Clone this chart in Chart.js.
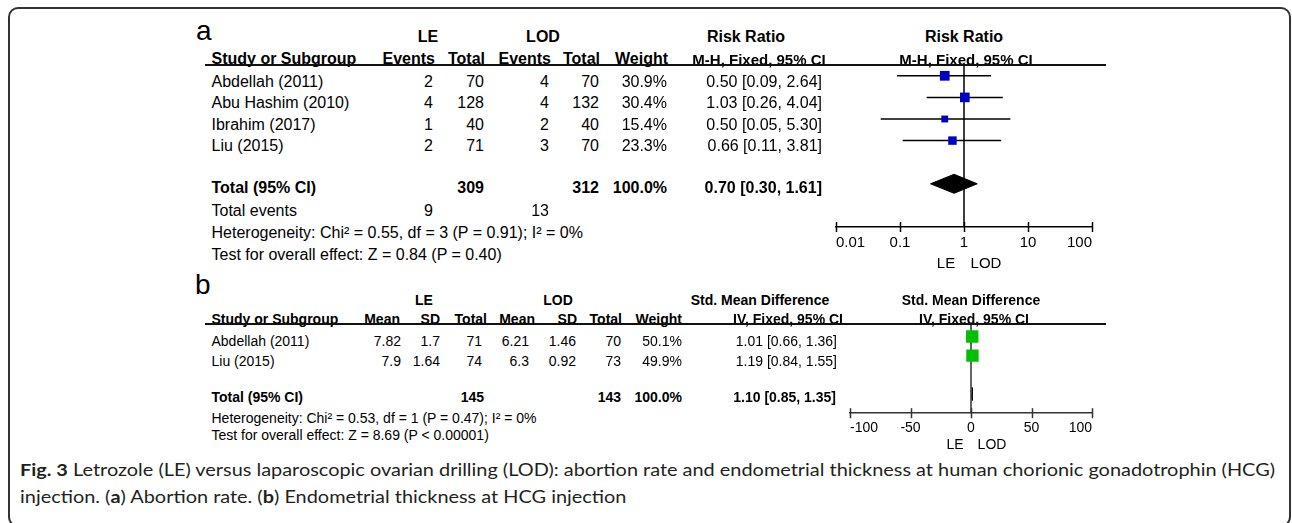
<!DOCTYPE html>
<html>
<head>
<meta charset="utf-8">
<script src="https://cdn.jsdelivr.net/npm/chart.js"></script>
<style>
html, body { margin: 0; padding: 0; background: #fff; }
body { width: 1292px; height: 523px; position: relative; overflow: hidden; font-family: "Liberation Sans", Arial, sans-serif; color: #000; }
#frame { position: absolute; left: 8px; top: 7px; width: 1283px; height: 520px; border: 2px solid #333; border-radius: 10px; box-sizing: border-box; }
.t { position: absolute; white-space: nowrap; line-height: 1.15; }
.b { font-weight: bold; }
.hline { position: absolute; height: 2px; background: #111; }
canvas { position: absolute; }
.cap { position: absolute; left: 20px; font-family: Lato, "Open Sans", sans-serif; font-size: 17px; color: #231f20; white-space: nowrap; transform-origin: 0 0; line-height: 20px; }
</style>
</head>
<body>
<div id="frame"></div>
<canvas id="chartA" width="316" height="204" style="left:806px; top:55px;"></canvas>
<canvas id="chartB" width="302" height="130" style="left:820px; top:314px;"></canvas>
<div class="cap" id="cap1" style="top:460px;"><b>Fig. 3</b> Letrozole (LE) versus laparoscopic ovarian drilling (LOD): abortion rate and endometrial thickness at human chorionic gonadotrophin (HCG)</div>
<div class="cap" id="cap2" style="top:487px;">injection. (<b>a</b>) Abortion rate. (<b>b</b>) Endometrial thickness at HCG injection</div>
<script>
// panel a: abortion rate
const studiesA = ['Abdellah (2011)', 'Abu Hashim (2010)', 'Ibrahim (2017)', 'Liu (2015)'];
const leEventsA = [2, 4, 1, 2];
const leTotalA = [70, 128, 40, 71];
const lodEventsA = [4, 4, 2, 3];
const lodTotalA = [70, 132, 40, 70];
const weightA = [30.9, 30.4, 15.4, 23.3];
const rrA = [0.50, 1.03, 0.50, 0.66];
const rrLoA = [0.09, 0.26, 0.05, 0.11];
const rrHiA = [2.64, 4.04, 5.30, 3.81];
const totalA = { le: 309, lod: 312, leEvents: 9, lodEvents: 13, weight: 100.0, est: 0.70, lo: 0.30, hi: 1.61 };
const hetA = 'Heterogeneity: Chi² = 0.55, df = 3 (P = 0.91); I² = 0%';
const testA = 'Test for overall effect: Z = 0.84 (P = 0.40)';
const xTicksA = [0.01, 0.1, 1, 10, 100];
const xTickLabelsA = ['0.01', '0.1', '1', '10', '100'];

// panel b: endometrial thickness
const studiesB = ['Abdellah (2011)', 'Liu (2015)'];
const leMeanB = [7.82, 7.9];
const leSdB = [1.7, 1.64];
const leTotalB = [71, 74];
const lodMeanB = [6.21, 6.3];
const lodSdB = [1.46, 0.92];
const lodTotalB = [70, 73];
const weightB = [50.1, 49.9];
const smdB = [1.01, 1.19];
const smdLoB = [0.66, 0.84];
const smdHiB = [1.36, 1.55];
const totalB = { le: 145, lod: 143, weight: 100.0, est: 1.10, lo: 0.85, hi: 1.35 };
const hetB = 'Heterogeneity: Chi² = 0.53, df = 1 (P = 0.47); I² = 0%';
const testB = 'Test for overall effect: Z = 8.69 (P < 0.00001)';
const xTicksB = [-100, -50, 0, 50, 100];
const xTickLabelsB = ['-100', '-50', '0', '50', '100'];

function txt(x, y, s, size, align, bold) {
  const d = document.createElement('div');
  d.className = 't' + (bold ? ' b' : '');
  d.textContent = s;
  d.style.fontSize = size + 'px';
  d.style.left = x + 'px';
  d.style.top = (y - size * 0.575) + 'px';
  if (align === 'right') d.style.transform = 'translateX(-100%)';
  else if (align === 'center') d.style.transform = 'translateX(-50%)';
  document.body.appendChild(d);
}
function hline(x1, x2, y) {
  const d = document.createElement('div');
  d.className = 'hline';
  d.style.left = x1 + 'px';
  d.style.width = (x2 - x1) + 'px';
  d.style.top = (y - 1) + 'px';
  document.body.appendChild(d);
}
const ci = (e, l, h) => e.toFixed(2) + ' [' + l.toFixed(2) + ', ' + h.toFixed(2) + ']';

// ---- table a
txt(196, 31, 'a', 28);
txt(428, 37.5, 'LE', 16, 'center', true);
txt(543, 37.5, 'LOD', 16, 'center', true);
txt(746, 37.5, 'Risk Ratio', 16, 'center', true);
txt(964, 37.5, 'Risk Ratio', 16, 'center', true);
txt(211.5, 59.3, 'Study or Subgroup', 16, 'left', true);
txt(435, 59.3, 'Events', 16, 'right', true);
txt(485, 59.3, 'Total', 16, 'right', true);
txt(551, 59.3, 'Events', 16, 'right', true);
txt(600, 59.3, 'Total', 16, 'right', true);
txt(668, 59.3, 'Weight', 16, 'right', true);
txt(759, 59.3, 'M-H, Fixed, 95% CI', 15, 'center', true);
txt(966, 59.3, 'M-H, Fixed, 95% CI', 15, 'center', true);
studiesA.forEach((s, i) => {
  const y = 81.7 + 21.6 * i;
  txt(211.5, y, s, 16);
  txt(433, y, String(leEventsA[i]), 16, 'right');
  txt(484, y, String(leTotalA[i]), 16, 'right');
  txt(549, y, String(lodEventsA[i]), 16, 'right');
  txt(599, y, String(lodTotalA[i]), 16, 'right');
  txt(667, y, weightA[i].toFixed(1) + '%', 16, 'right');
  txt(822, y, ci(rrA[i], rrLoA[i], rrHiA[i]), 16, 'right');
});
txt(211.5, 188.5, 'Total (95% CI)', 16, 'left', true);
txt(484, 188.5, String(totalA.le), 16, 'right', true);
txt(599, 188.5, String(totalA.lod), 16, 'right', true);
txt(667, 188.5, totalA.weight.toFixed(1) + '%', 16, 'right', true);
txt(822, 188.5, ci(totalA.est, totalA.lo, totalA.hi), 16, 'right', true);
txt(211.5, 211.5, 'Total events', 16);
txt(433, 211.5, String(totalA.leEvents), 16, 'right');
txt(549, 211.5, String(totalA.lodEvents), 16, 'right');
txt(211.5, 233.2, hetA, 16);
txt(211.5, 254.8, testA, 16);
txt(946, 263, 'LE', 15, 'center');
txt(986, 263, 'LOD', 15, 'center');
hline(205, 1106, 65);

// ---- table b
txt(195, 285, 'b', 28);
txt(424, 300, 'LE', 14, 'center', true);
txt(558, 300, 'LOD', 14, 'center', true);
txt(760, 300, 'Std. Mean Difference', 14, 'center', true);
txt(971, 300, 'Std. Mean Difference', 14, 'center', true);
txt(211.5, 319.5, 'Study or Subgroup', 14, 'left', true);
txt(400, 319.5, 'Mean', 14, 'right', true);
txt(440, 319.5, 'SD', 14, 'right', true);
txt(487, 319.5, 'Total', 14, 'right', true);
txt(535, 319.5, 'Mean', 14, 'right', true);
txt(577, 319.5, 'SD', 14, 'right', true);
txt(622, 319.5, 'Total', 14, 'right', true);
txt(682, 319.5, 'Weight', 14, 'right', true);
txt(843, 319.5, 'IV, Fixed, 95% CI', 14, 'right', true);
txt(974, 319.5, 'IV, Fixed, 95% CI', 14, 'center', true);
studiesB.forEach((s, i) => {
  const y = 341 + 20 * i;
  txt(211.5, y, s, 14);
  txt(401, y, String(leMeanB[i]), 14, 'right');
  txt(440, y, String(leSdB[i]), 14, 'right');
  txt(482, y, String(leTotalB[i]), 14, 'right');
  txt(529, y, String(lodMeanB[i]), 14, 'right');
  txt(576, y, String(lodSdB[i]), 14, 'right');
  txt(621, y, String(lodTotalB[i]), 14, 'right');
  txt(682, y, weightB[i].toFixed(1) + '%', 14, 'right');
  txt(837, y, ci(smdB[i], smdLoB[i], smdHiB[i]), 14, 'right');
});
txt(211.5, 397.3, 'Total (95% CI)', 14, 'left', true);
txt(484, 397.3, String(totalB.le), 14, 'right', true);
txt(621, 397.3, String(totalB.lod), 14, 'right', true);
txt(682, 397.3, totalB.weight.toFixed(1) + '%', 14, 'right', true);
txt(836, 397.3, ci(totalB.est, totalB.lo, totalB.hi), 14, 'right', true);
txt(211.5, 418.3, hetB, 14);
txt(211.5, 435, testB, 14);
txt(955, 444, 'LE', 14, 'center');
txt(992, 444, 'LOD', 14, 'center');
hline(205, 1106, 324.3);

// caption fit to the justified first line
const cap1 = document.getElementById('cap1'), cap2 = document.getElementById('cap2');
const sc = 1255 / cap1.getBoundingClientRect().width;
[cap1, cap2].forEach(el => el.style.transform = 'scaleX(' + sc + ')');

// ---- forest plots
const tickMarks = {
  id: 'tickMarks',
  afterDraw(chart) {
    const s = chart.scales.x, ctx = chart.ctx, yAx = chart.chartArea.bottom;
    ctx.save();
    ctx.strokeStyle = chart.options.plugins.tickMarks.color;
    ctx.lineWidth = 1.5;
    s.ticks.forEach(t => {
      const px = Math.round(s.getPixelForValue(t.value)) + 0.5;
      ctx.beginPath();
      ctx.moveTo(px, yAx - 5);
      ctx.lineTo(px, yAx + 5);
      ctx.stroke();
    });
    ctx.restore();
  }
};

function forest(id, o) {
  const n = o.est.length, r = n + 1;
  const datasets = [
    { type: 'scatter', order: 0, data: o.est.map((v, i) => ({ x: v, y: i })), pointStyle: 'rect',
      pointRadius: o.weight.map(w => Math.sqrt(w) * o.boxScale / Math.SQRT2),
      backgroundColor: o.boxColor, borderColor: o.boxColor, borderWidth: 0 },
    { type: 'line', order: 1,
      data: [{ x: o.tLo, y: r }, { x: o.tEst, y: r - o.dh }, { x: o.tHi, y: r }, { x: o.tEst, y: r + o.dh }, { x: o.tLo, y: r }],
      fill: 'shape', backgroundColor: '#000', borderColor: '#000', borderWidth: 1, pointRadius: 0 },
    ...o.est.map((v, i) => ({ type: 'line', order: 2, data: [{ x: o.lo[i], y: i }, { x: o.hi[i], y: i }],
      borderColor: '#000', borderWidth: 1.5, pointRadius: 0 })),
    { type: 'line', order: 3, data: [{ x: o.nullX, y: o.yMin }, { x: o.nullX, y: o.yMax }],
      borderColor: o.lineColor, borderWidth: 1.5, pointRadius: 0 }
  ];
  new Chart(document.getElementById(id), {
    type: 'scatter',
    data: { datasets },
    options: {
      responsive: false, animation: false, devicePixelRatio: 1, events: [],
      layout: { padding: { left: 30, right: 30, top: 10, bottom: 0 } },
      plugins: { legend: { display: false }, tooltip: { enabled: false }, tickMarks: { color: o.lineColor } },
      scales: {
        x: {
          type: o.xType, min: o.xTicks[0], max: o.xTicks[o.xTicks.length - 1],
          afterBuildTicks: s => { s.ticks = o.xTicks.map(v => ({ value: v })); },
          ticks: { callback: (v, i) => o.xLabels[i], align: 'inner', autoSkip: false, maxRotation: 0,
            padding: 7, color: '#000', font: { family: 'Liberation Sans', size: o.tickSize } },
          grid: { display: false, drawTicks: false },
          border: { display: true, color: o.lineColor, width: 1.5 }
        },
        y: { type: 'linear', min: o.yMin, max: o.yMax, reverse: true, display: false }
      }
    },
    plugins: [tickMarks]
  });
}

forest('chartA', {
  xType: 'logarithmic', xTicks: xTicksA, xLabels: xTickLabelsA, tickSize: 15,
  est: rrA, lo: rrLoA, hi: rrHiA, weight: weightA,
  tEst: totalA.est, tLo: totalA.lo, tHi: totalA.hi,
  nullX: 1, yMin: -0.5, yMax: 7, dh: 0.44, boxScale: 1.75, boxColor: '#0000c4', lineColor: '#000'
});
forest('chartB', {
  xType: 'linear', xTicks: xTicksB, xLabels: xTickLabelsB, tickSize: 14,
  est: smdB, lo: smdLoB, hi: smdHiB, weight: weightB,
  tEst: totalB.est, tLo: totalB.lo, tHi: totalB.hi,
  nullX: 0, yMin: -0.65, yMax: 4, dh: 0.34, boxScale: 1.75, boxColor: '#00c000', lineColor: '#333'
});
</script>
</body>
</html>
